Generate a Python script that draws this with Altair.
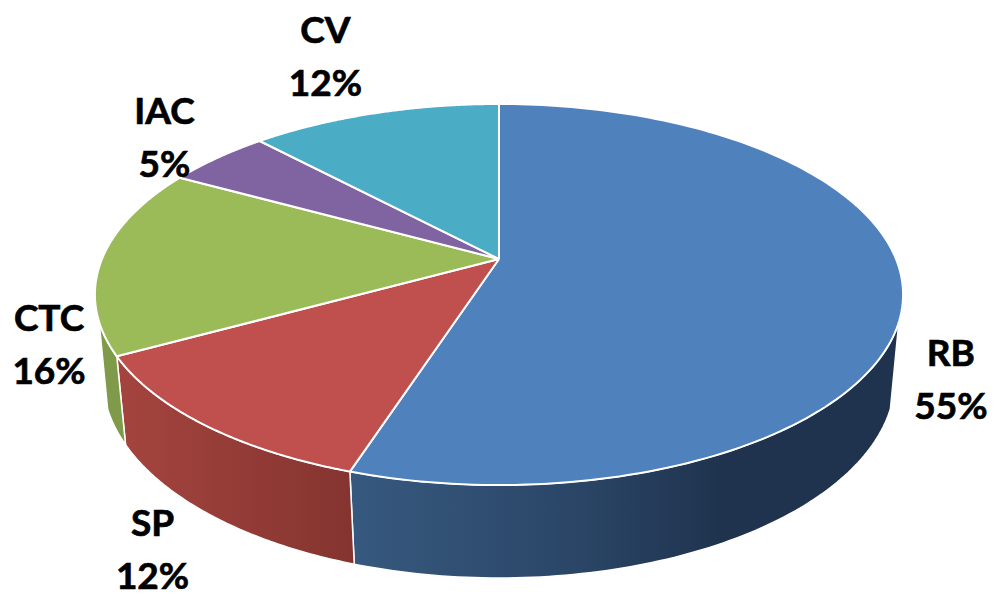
import numpy as np
import pandas as pd
import altair as alt

# Chart values
categories = ["RB", "SP", "CTC", "IAC", "CV"]
shares = [55, 12, 16, 5, 12]
top_colors = ["#4f81bd", "#c0504d", "#9bbb59", "#8064a2", "#4bacc6"]
wall_stops = {
    "RB": [(0, "#37597f"), (0.42, "#2a4566"), (0.68, "#1f334e"), (1, "#1f334e")],
    "SP": [(0, "#a5443f"), (1, "#84342f")],
    "CTC": [(0, "#7f9a48"), (1, "#7f9a48")],
}
# where each visible wall is cut off by the pie's silhouette (degrees clockwise from top)
wall_limit_start = {"RB": 108.8}
wall_limit_end = {"CTC": 251.2}
# label offset from the rim point at each slice's middle angle
label_dx = [48, -51, -53, -53, -49]
label_dy = [93, 127, 87, -18, -55]
LINE_GAP = 53

W, H = 997, 600
TOP = dict(cx=499, cy=259, A=397, B=183.9, p=0.1864)
BOT = dict(cx=499, cy=342.8, A=390, B=193.8, p=0.176)


def rim(deg, g):
    t = np.radians(deg)
    s, c = np.sin(t), np.cos(t)
    d = 1 + g["p"] * c
    return g["cx"] + g["A"] * s / d, g["cy"] - g["B"] * c / d


xs = alt.X("x:Q", axis=None, scale=alt.Scale(domain=[0, W], nice=False, zero=False))
ys = alt.Y("y:Q", axis=None, scale=alt.Scale(domain=[H, 0], nice=False, zero=False))
order = alt.Order("i:Q")


def polygon(px, py, fill, width):
    df = pd.DataFrame({"x": px, "y": py})
    df["i"] = range(len(df))
    return alt.Chart(df).mark_line(
        fill=fill, stroke="white", strokeWidth=width, strokeJoin="round", clip=False
    ).encode(x=xs, y=ys, order=order)


edges = np.concatenate([[0], np.cumsum(shares)]) * 3.6
walls, tops, label_rows = [], [], []

for k, name in enumerate(categories):
    a0, a1 = edges[k], edges[k + 1]
    if name in wall_stops:
        w0 = wall_limit_start.get(name, a0)
        w1 = wall_limit_end.get(name, a1)
        th = np.linspace(w0, w1, 90)
        tx, ty = rim(th, TOP)
        bx, by = rim(th[::-1], BOT)
        px = np.concatenate([tx, bx, tx[:1]])
        py = np.concatenate([ty, by, ty[:1]])
        stops = [alt.GradientStop(offset=o, color=c) for o, c in wall_stops[name]]
        grad = alt.Gradient(gradient="linear", stops=stops, x1=0, x2=1, y1=0, y2=0)
        walls.append(polygon(px, py, grad, 1.5))

    th = np.linspace(a0, a1, 160)
    rx, ry = rim(th, TOP)
    px = np.concatenate([[TOP["cx"]], rx, [TOP["cx"]]])
    py = np.concatenate([[TOP["cy"]], ry, [TOP["cy"]]])
    tops.append(polygon(px, py, top_colors[k], 2))

    mx, my = rim((a0 + a1) / 2, TOP)
    lx, ly = mx + label_dx[k], my + label_dy[k]
    label_rows.append({"x": lx, "y": ly - LINE_GAP / 2, "t": name})
    label_rows.append({"x": lx, "y": ly + LINE_GAP / 2, "t": f"{shares[k]}%"})

labels = alt.Chart(pd.DataFrame(label_rows)).mark_text(
    font="Lato", fontWeight="bold", fontSize=37, color="black",
    stroke="black", strokeWidth=0.7,
    align="center", baseline="middle", clip=False
).encode(x=xs, y=ys, text="t:N")

chart = alt.layer(*walls, *tops, labels).properties(
    width=W, height=H,
    padding={"left": -8, "top": -8, "right": -8, "bottom": -8},
    autosize=alt.AutoSizeParams(type="none"),
    background="white",
).configure_view(stroke=None)

chart.save("out.html", embed_options={"renderer": "svg", "actions": False})
